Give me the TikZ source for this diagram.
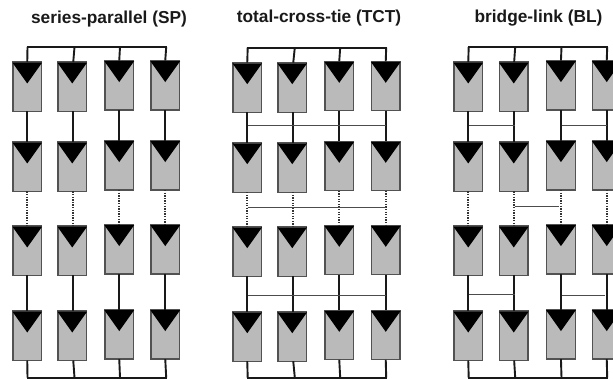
\documentclass[tikz,border=0pt]{standalone}
\usepackage{fontspec}
\setmainfont{Liberation Sans}
\usetikzlibrary{calc}
\tikzset{
  x=1pt,y=-1pt,
  panelbox/.style={draw=black!68,line width=1.3pt,fill=black!27,minimum width=28.5pt,minimum height=49.5pt,inner sep=0pt,outer sep=0pt,anchor=north west},
  tri/.style={fill=black,draw=none},
  wire/.style={draw=black!90,line width=1.9pt},
  dotwire/.style={draw=black!80,line width=1.9pt,dash pattern=on 1.3pt off 1.3pt},
  tie/.style={draw=black!70,line width=.9pt},
  title/.style={font=\bfseries\fontsize{17.3}{20}\selectfont,inner sep=0pt,anchor=center,text=black!90}
}
% #1 array prefix, #2-#5 left edges, #6 y shift, #7 wire offset of column 2
\newcommand{\pvgrid}[7]{%
  \foreach \c/\x/\d/\o in {1/#2/0/0,2/#3/0/#7,3/#4/-1.4/0,4/#5/-1.4/0}{%
    \foreach \r/\y in {1/62,2/142,3/226,4/311}{%
      \node[panelbox] (#1\r\c) at (\x,\y+#6+\d) {};
      \fill[tri] ([shift={(-.6pt,-.6pt)}]#1\r\c.north west) -- ([shift={(.6pt,-.6pt)}]#1\r\c.north east) -- ($(#1\r\c.north)+(0,21.5)$) -- cycle;
    }
    \draw[wire] ([xshift=\o pt]#1\c top) -- ([xshift=\o pt]#11\c.north);
    \draw[wire] ([xshift=\o pt]#11\c.south) -- ([xshift=\o pt]#12\c.north);
    \draw[dotwire] ([xshift=\o pt]#12\c.south) -- ([xshift=\o pt]#13\c.north);
    \draw[wire] ([xshift=\o pt]#13\c.south) -- ([xshift=\o pt]#14\c.north);
    \draw[wire] ([xshift=\o pt]#14\c.south) -- ([xshift=\o pt]#1\c bot);
  }
  \draw[wire,line cap=rect] (#11top) -- (#14top);
  \draw[wire,line cap=rect] (#11bot) -- (#14bot);
}
\newcommand{\pvbus}[6]{%
  \coordinate (#11top) at (#2,#6);
  \coordinate (#12top) at (#3,#6);
  \coordinate (#13top) at (#4,#6);
  \coordinate (#14top) at (#5,#6);
  \coordinate (#11bot) at (#2,377.6);
  \coordinate (#12bot) at (#3,377.6);
  \coordinate (#13bot) at (#4,377.6);
  \coordinate (#14bot) at (#5,377.6);
}
\begin{document}
\begin{tikzpicture}
\useasboundingbox (0,0) rectangle (613,379);
\clip (0,0) rectangle (613,379);
\node[title] (tS) at (109,19) {series-parallel (SP)};
\node[title] (tT) at (319,18.5) {total-cross-tie (TCT)};
\node[title] (tB) at (538.5,18.5) {bridge-link (BL)};

\pvbus{S}{27.5}{73.5}{120}{166.2}{47}
\pvgrid{S}{13}{58}{105}{151}{0}{1}

\pvbus{T}{247.7}{293.8}{340.2}{386.2}{47.6}
\pvgrid{T}{233}{278}{325}{371.5}{.7}{1}

\pvbus{B}{468.7}{514.8}{561.5}{607.2}{47}
\pvgrid{B}{454}{499.5}{546.7}{592.5}{0}{.4}

% TCT ties
\coordinate (Ta1) at (T1top |- 0,125);
\coordinate (Ta2) at (T4top |- 0,125);
\coordinate (Tb1) at (T1top |- 0,207.3);
\coordinate (Tb2) at (T4top |- 0,207.3);
\coordinate (Tc1) at (T1top |- 0,295.7);
\coordinate (Tc2) at (T4top |- 0,295.7);
\draw[tie] (Ta1) -- (Ta2);
\draw[tie] (Tb1) -- (Tb2);
\draw[tie] (Tc1) -- (Tc2);

% BL ties
\coordinate (Ba1) at (B1top |- 0,125);
\coordinate (Ba2) at (B2top |- 0,125);
\coordinate (Ba3) at (B3top |- 0,125);
\coordinate (Ba4) at (B4top |- 0,125);
\coordinate (Bb1) at (B2top |- 0,206.4);
\coordinate (Bb2) at (558.7,206.4);
\coordinate (Bc1) at (B1top |- 0,294);
\coordinate (Bc2) at (B2top |- 0,294);
\coordinate (Bc3) at (B3top |- 0,295.3);
\coordinate (Bc4) at (605,295.3);
\draw[tie] (Ba1) -- (Ba2);
\draw[tie] (Ba3) -- (Ba4);
\draw[tie] (Bb1) -- (Bb2);
\draw[tie] (Bc1) -- (Bc2);
\draw[tie] (Bc3) -- (Bc4);
\end{tikzpicture}
\end{document}
